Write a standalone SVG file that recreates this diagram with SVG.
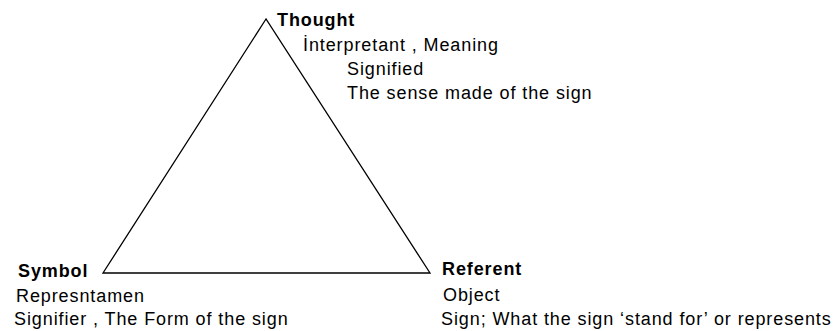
<svg xmlns="http://www.w3.org/2000/svg" width="836" height="331" viewBox="0 0 836 331">
<style>
.t{font-family:"Liberation Sans",Arial,sans-serif;font-size:18px;letter-spacing:0.9px;fill:#000}
.b{font-weight:bold}
.e{fill:none;stroke:#000;stroke-width:1.3}
</style>
<rect width="836" height="331" fill="#fff"/>
<g id="connectors">
<polygon class="e" points="266,19 103,273 430,273"/>
</g>
<g id="thought">
<text class="t b" x="277" y="26">Thought</text>
<text class="t" x="303" y="51">İnterpretant , Meaning</text>
<text class="t" x="347" y="75">Signified</text>
<text class="t" x="347" y="99">The sense made of the sign</text>
</g>
<g id="symbol">
<text class="t b" x="18" y="277">Symbol</text>
<text class="t" x="16" y="302">Represntamen</text>
<text class="t" x="14" y="325">Signifier , The Form of the sign</text>
</g>
<g id="referent">
<text class="t b" x="442" y="275">Referent</text>
<text class="t" x="443" y="301">Object</text>
<text class="t" x="441" y="325">Sign; What the sign ‘stand for’ or represents</text>
</g>
</svg>
